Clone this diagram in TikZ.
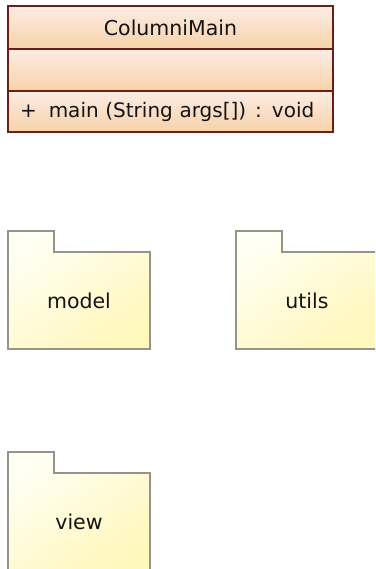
\documentclass[tikz,border=0pt]{standalone}
\usepackage{fontspec}
\setmainfont{DejaVu Sans}
\usetikzlibrary{positioning}

\definecolor{classtop}{RGB}{253,236,228}
\definecolor{classbot}{RGB}{246,210,168}
\definecolor{classline}{RGB}{105,32,24}
\definecolor{pkglight}{RGB}{255,255,243}
\definecolor{pkgdark}{RGB}{255,247,188}
\definecolor{pkgline}{RGB}{150,148,138}
\definecolor{umltext}{RGB}{20,20,20}

\tikzset{umlfont/.style={font=\fontsize{20.5}{24}\selectfont, text=umltext}}
\tikzset{classpart/.style={
    	draw=classline, line width=2pt,
    	top color=classtop, bottom color=classbot,
    	minimum width=325pt, outer sep=0pt, inner sep=0pt, umlfont
  	}
}
\tikzset{package/.style={
    	draw=pkgline, line width=1.2pt,
    	top color=pkglight, bottom color=pkgdark, shading angle=35
  	}
}

\begin{document}
\begin{tikzpicture}[x=1pt, y=-1pt]
		\path[use as bounding box, clip] (0,0) rectangle (375,569);
		% class with its three compartments
		\node [classpart, anchor=north west, minimum height=43pt] (mainname) at (8,6) {ColumniMain};
		\node [classpart, below=0pt of mainname, minimum height=42pt] (mainattr) {};
		\node [classpart, below=0pt of mainattr, minimum height=41pt, inner xsep=12pt, text width=301pt, align=left,
			font=\fontsize{20}{24}\selectfont] (mainops)
			{\mbox{+\hspace{12pt}main (String args[])\hspace{9pt}: void}};
		% packages: tab on top, label in the body
		\foreach \name/\x/\y in {model/8/252, utils/236/252, view/8/473}
		{
			\coordinate (\name-nw) at (\x,\y);
			\draw [package] (\name-nw) -- ++(0,-21) -- ++(46,0) -- ++(0,21) -- ++(96,0) -- ++(0,97) -- ++(-142,0) -- cycle;
			\node [umlfont] (\name) at (\x+71,\y+48.5) {\name};
		}
	\end{tikzpicture}
\end{document}
